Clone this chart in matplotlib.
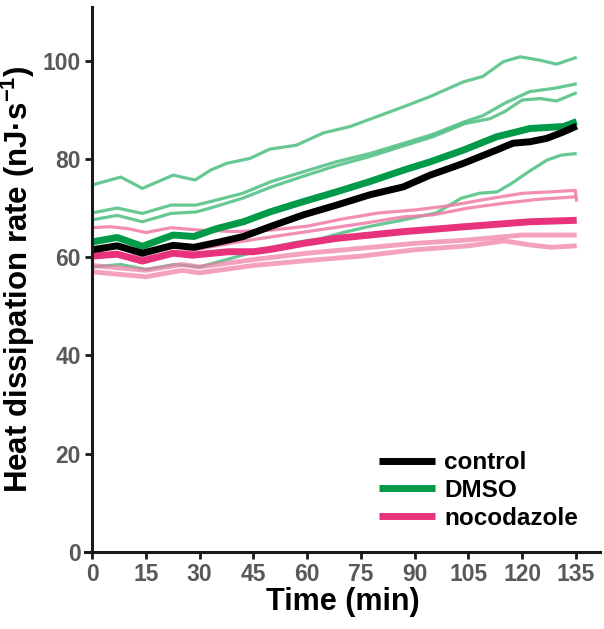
import matplotlib
matplotlib.use("Agg")
import matplotlib.pyplot as plt

# font setup, Arial-like bold everywhere
plt.rcParams['font.family'] = ['Liberation Sans', 'DejaVu Sans']
plt.rcParams['font.weight'] = 'bold'
plt.rcParams['mathtext.fontset'] = 'custom'
plt.rcParams['mathtext.bf'] = 'Liberation Sans:bold'
plt.rcParams['mathtext.rm'] = 'Liberation Sans:bold'

# ---- data ----
# mean traces
control_t = [0, 7, 14, 22.6, 28.4, 35.6, 42.2, 50, 58.9, 68.2, 77.5, 86.8, 94.3, 103.6, 112.8, 117.4, 122.2, 126.9, 131.5, 135.2]
control_v = [61.5, 62.3, 60.8, 62.4, 62.0, 63.1, 64.2, 66.3, 68.6, 70.6, 72.7, 74.3, 76.7, 79.1, 81.8, 83.2, 83.5, 84.2, 85.5, 86.7]

dmso_t = [0, 7, 14, 22.6, 28.4, 34.7, 42.2, 49.6, 58.9, 68.2, 77.5, 86.8, 94.3, 103.6, 112.8, 122.2, 131.5, 135.2]
dmso_v = [63.1, 64.0, 62.2, 64.5, 64.2, 65.8, 67.2, 69.2, 71.3, 73.3, 75.4, 77.7, 79.4, 81.8, 84.5, 86.2, 86.6, 87.6]

noco_t = [0, 7, 14, 22.6, 28, 38, 45, 50, 59, 68, 77.5, 87, 94, 104, 113, 122, 135.2]
noco_v = [60.2, 60.6, 59.2, 60.8, 60.4, 61.1, 61.1, 61.6, 62.8, 63.8, 64.5, 65.2, 65.6, 66.2, 66.7, 67.2, 67.5]

# individual DMSO runs
dmso1_t = [0, 8, 14, 22.6, 28.7, 33, 37.5, 44, 49.6, 57, 64.5, 72, 79.4, 86.8, 94.3, 103.6, 109, 114.7, 119.4, 125, 129.6, 135.2]
dmso1_v = [74.7, 76.3, 74.0, 76.7, 75.7, 77.7, 79.1, 80.1, 82.0, 82.8, 85.3, 86.6, 88.6, 90.6, 92.7, 95.7, 96.8, 99.8, 100.8, 100.1, 99.3, 100.7]
dmso2_t = [0, 7, 14, 22, 29, 33, 42, 50, 59, 68, 77.5, 87, 95, 104, 109, 115, 122, 129, 135.2]
dmso2_v = [69.0, 70.0, 68.9, 70.6, 70.6, 71.3, 73.0, 75.4, 77.4, 79.4, 81.1, 83.2, 85.0, 87.6, 88.8, 91.3, 93.7, 94.4, 95.3]
dmso3_t = [0, 7, 14, 22, 29, 33, 42, 50, 59, 68, 77.5, 87, 95, 104, 111, 115, 120, 125, 129.6, 135.2]
dmso3_v = [67.6, 68.5, 67.2, 68.9, 69.2, 70.0, 72.0, 74.3, 76.5, 78.6, 80.5, 82.7, 84.5, 87.2, 88.2, 89.6, 92.0, 92.3, 91.8, 93.5]
dmso4_t = [0, 8, 15, 23, 30, 40, 50, 57, 64, 70, 77, 87, 96, 103, 108, 113, 117, 122, 127, 131, 135.2]
dmso4_v = [58.0, 58.5, 57.5, 58.5, 58.0, 60.0, 62.0, 63.0, 63.8, 65.0, 66.2, 67.6, 69.0, 72.0, 73.0, 73.3, 75.0, 77.5, 79.8, 80.8, 81.1]

# individual nocodazole runs
noco1_t = [0, 5, 10, 15, 22, 30, 40, 50, 60, 70, 80, 90, 100, 110, 120, 128, 134.8, 135.2]
noco1_v = [66.0, 66.2, 65.8, 65.0, 66.0, 65.5, 65.2, 65.5, 66.3, 67.8, 69.0, 69.6, 70.5, 71.8, 73.0, 73.3, 73.6, 71.3]
noco2_t = [0, 15, 25, 31, 40, 47, 60, 75, 87, 95, 105, 115, 125, 135.2]
noco2_v = [61.0, 60.0, 61.0, 61.8, 63.0, 63.8, 65.2, 66.8, 68.2, 68.6, 70.0, 71.0, 71.8, 72.3]
noco3_t = [0, 15, 25, 30, 45, 60, 75, 90, 105, 120, 128, 135.2]
noco3_v = [58.3, 57.3, 58.5, 58.0, 59.5, 60.8, 61.8, 62.8, 63.5, 64.5, 64.5, 64.5]
noco4_t = [0, 15, 25, 30, 45, 60, 75, 90, 105, 115, 122, 128, 135.2]
noco4_v = [57.0, 56.0, 57.3, 56.8, 58.3, 59.3, 60.2, 61.5, 62.3, 63.3, 62.5, 62.0, 62.3]

x_ticks = [0, 15, 30, 45, 60, 75, 90, 105, 120, 135]
y_ticks = [0, 20, 40, 60, 80, 100]

# colours
c_black = '#000000'
c_green = '#009a48'
c_green_lt = '#4cbf82'
c_pink = '#e8337c'
c_pink_lt = '#f07aa6'

fig = plt.figure(figsize=(6.04, 6.29), dpi=100)
ax = fig.add_axes([0.1407, 0.1229, 0.8527, 0.8664])

# faint single runs
for t, v in [(dmso1_t, dmso1_v), (dmso2_t, dmso2_v), (dmso3_t, dmso3_v), (dmso4_t, dmso4_v)]:
    ax.plot(t, v, color=c_green_lt, lw=2.3, alpha=0.85, solid_capstyle='butt')
for t, v in [(noco3_t, noco3_v), (noco4_t, noco4_v)]:
    ax.plot(t, v, color=c_pink_lt, lw=3.5, alpha=0.7, solid_capstyle='butt')
for t, v in [(noco1_t, noco1_v), (noco2_t, noco2_v)]:
    ax.plot(t, v, color=c_pink_lt, lw=2.3, alpha=0.85, solid_capstyle='butt')

# mean traces
ax.plot(dmso_t, dmso_v, color=c_green, lw=5, solid_capstyle='butt', label='DMSO')
ax.plot(noco_t, noco_v, color=c_pink, lw=5, solid_capstyle='butt', label='nocodazole')
ax.plot(control_t, control_v, color=c_black, lw=5, solid_capstyle='butt', label='control')

ax.set_xlim(-2, 141.7)
ax.set_ylim(0, 111)
ax.set_xticks(x_ticks)
ax.set_yticks(y_ticks)
ax.spines['left'].set_position(('data', 0))
ax.spines['top'].set_visible(False)
ax.spines['right'].set_visible(False)
for s in ['left', 'bottom']:
    ax.spines[s].set_linewidth(2.2)
    ax.spines[s].set_color('#1a1a1a')
ax.tick_params(direction='out', length=5, width=2, color='#1a1a1a',
               labelsize=16.5, labelcolor='#595959', pad=3)
for lab in ax.get_xticklabels() + ax.get_yticklabels():
    lab.set_fontweight('bold')

ax.set_xlabel('Time (min)', fontsize=22, fontweight='bold', labelpad=1)
ax.set_ylabel('Heat dissipation rate (nJ·s$^{\\mathbf{-1}}$)', fontsize=22.5,
              fontweight='bold', labelpad=4)

handles, labels = ax.get_legend_handles_labels()
order = [2, 0, 1]
ax.legend([handles[i] for i in order], [labels[i] for i in order],
          loc='lower right', bbox_to_anchor=(1.0, 0.0), frameon=False,
          handlelength=2.3, handletextpad=0.4, labelspacing=0.2,
          prop={'weight': 'bold', 'size': 17.5})

fig.savefig('out.png', dpi=100)
